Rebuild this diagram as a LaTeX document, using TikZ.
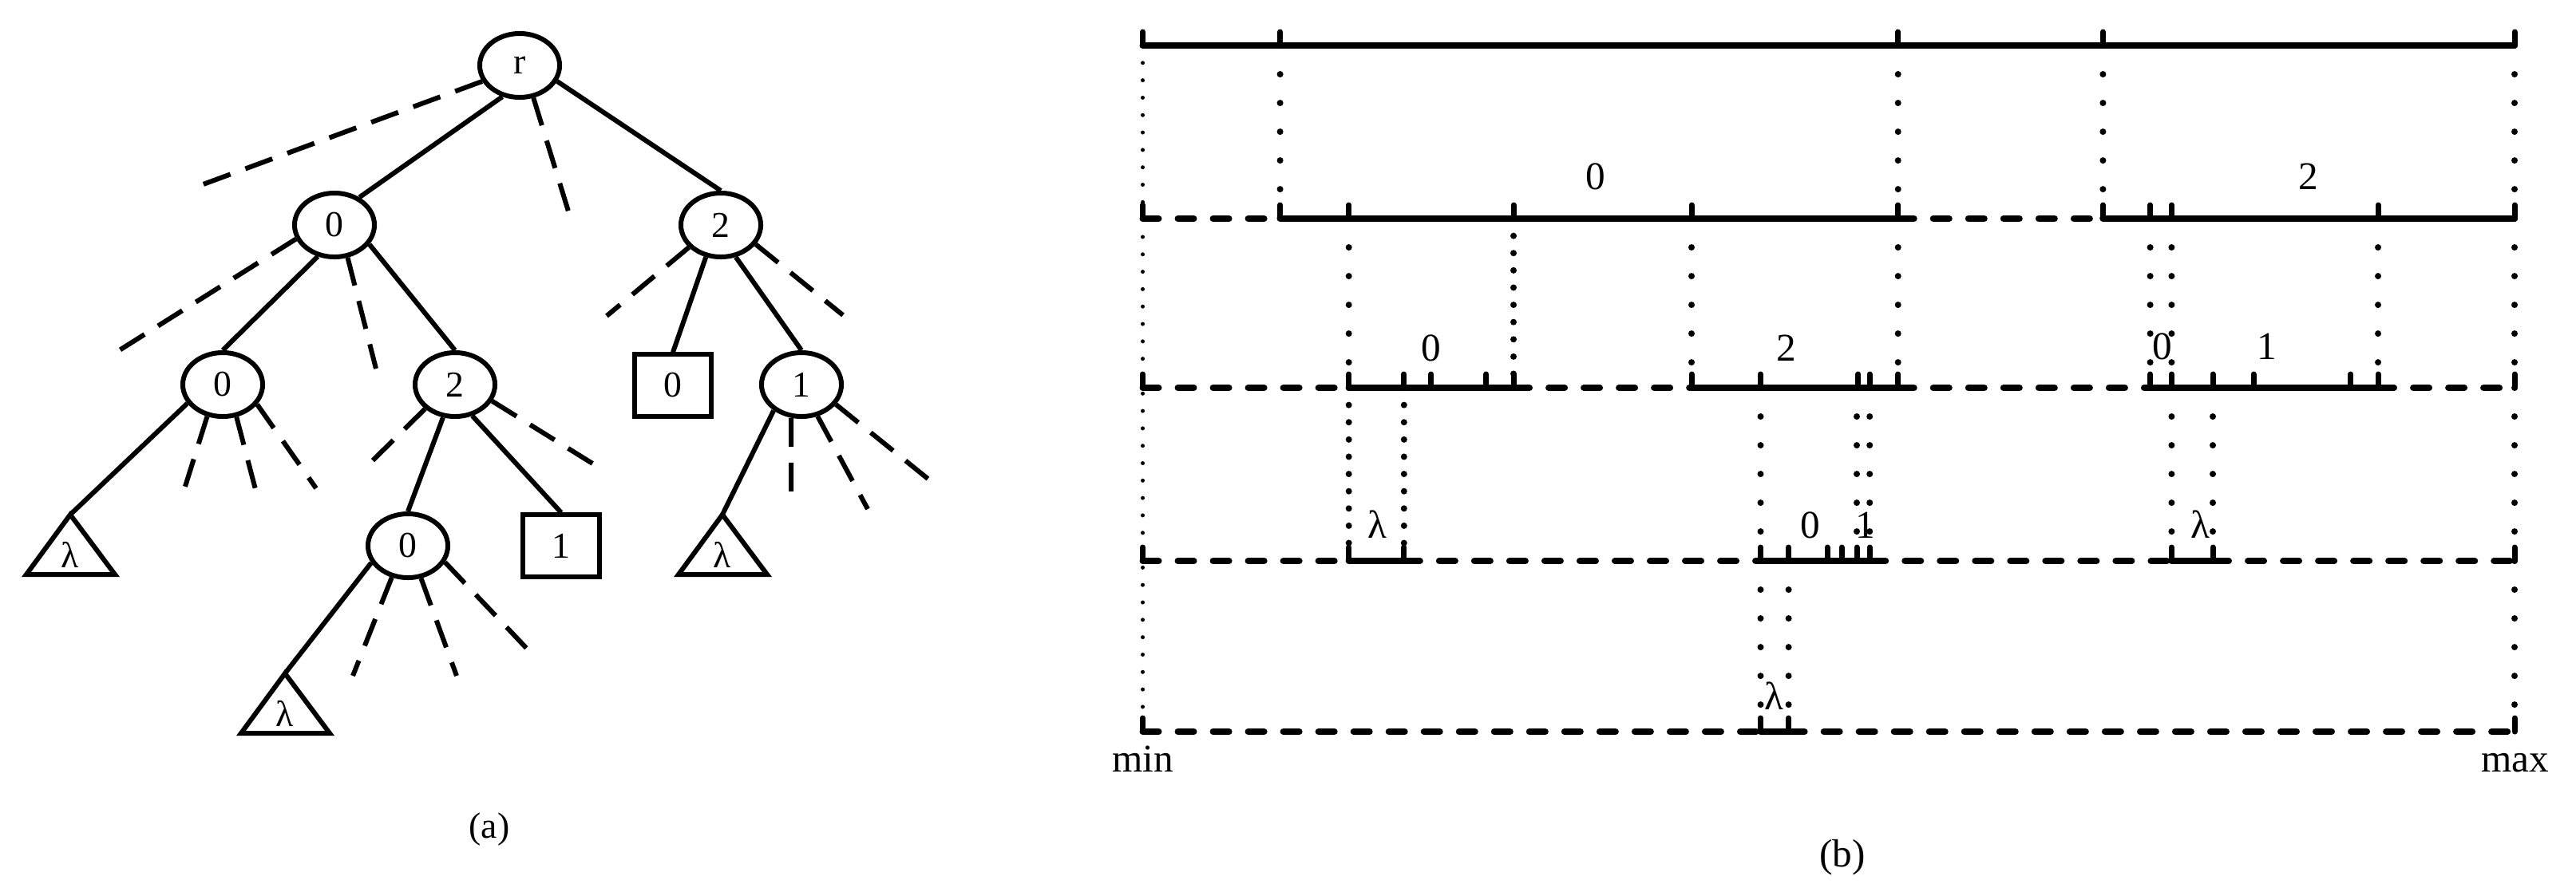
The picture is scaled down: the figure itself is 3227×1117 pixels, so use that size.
\documentclass[tikz,border=0pt]{standalone}
\usepackage{fontspec}
\setmainfont{Liberation Serif}
\usetikzlibrary{shapes.geometric}

\tikzset{
  tnode/.style={ellipse,draw,line width=0.06cm,minimum width=1cm,minimum height=0.8cm,inner sep=0pt,font=\fontsize{13}{15}\selectfont},
  tleaf/.style={rectangle,draw,line width=0.06cm,minimum width=0.96cm,minimum height=0.77cm,inner sep=0pt,font=\fontsize{13}{15}\selectfont},
  tedge/.style={line width=0.06cm},
  tstub/.style={line width=0.06cm,dash pattern=on 0.36cm off 0.2cm},
  ttri/.style={line width=0.06cm},
  tlab/.style={inner sep=0pt,font=\fontsize{13}{15}\selectfont},
  solidpart/.style={line width=0.08cm,line cap=round},
  dashpart/.style={line width=0.08cm,line cap=round,dash pattern=on 0.2cm off 0.24cm},
  tickmark/.style={line width=0.07cm,line cap=round},
  guide/.style={line width=0.08cm,line cap=round,dash pattern=on 0pt off 0.36cm},
  guidedense/.style={line width=0.08cm,line cap=round,dash pattern=on 0pt off 0.216cm},
  guidemin/.style={line width=0.05cm,line cap=round,dash pattern=on 0pt off 0.218cm},
  ilab/.style={inner sep=0pt,font=\fontsize{14}{16}\selectfont},
}

\begin{document}
\begin{tikzpicture}[x=0.01cm,y=-0.01cm]
\useasboundingbox (0,0) rectangle (3227,1117);

% (a) the tree
\node[tnode] (r) at (651,82) {r};
\node[tnode] (a0) at (419,282) {0};
\node[tnode] (a2) at (903,282) {2};
\node[tnode] (b0) at (279,482) {0};
\node[tnode] (b2) at (570,482) {2};
\node[tleaf] (c0) at (843,483) {0};
\node[tnode] (b1) at (1004,482) {1};
\node[tnode] (d0) at (511,684) {0};
\node[tleaf] (c1) at (703,684) {1};
\coordinate (t1) at (88,645);
\coordinate (t2) at (905,645);
\coordinate (t3) at (357,844);
\foreach \t in {t1,t2,t3}{
  \draw[ttri] (\t) -- ++(-55,75) -- ++(111,0) -- cycle;
  \path (\t) ++(0,50) node[tlab] (\t-lam) {λ};
}

\draw[tedge] (r.241) -- (a0.48);
\draw[tedge] (r.337) -- (a2.north);
\draw[tedge] (a0.242) -- (b0.north);
\draw[tedge] (a0.331) -- (b2.north);
\draw[tedge] (a2.245) -- (c0.north);
\draw[tedge] (a2.295) -- (b1.north);
\draw[tedge] (b0.208) -- (t1);
\draw[tedge] (b2.250) -- (d0.north);
\draw[tedge] (b2.299) -- (c1.north);
\draw[tedge] (b1.223) -- (t2);
\draw[tedge] (d0.205) -- (t3);

% dashed stubs, children not drawn
\draw[tstub] (r.203) -- (241,236);
\draw[tstub] (r.293) -- (713,268);
\draw[tstub] (a0.200) -- (140,445);
\draw[tstub] (a0.292) -- (471,462);
\draw[tstub] (a2.215) -- (760,396);
\draw[tstub] (a2.331) -- (1056,395);
\draw[tstub] (b0.244) -- (230,616);
\draw[tstub] (b0.293) -- (321,617);
\draw[tstub] (b0.330) -- (396,612);
\draw[tstub] (b2.219) -- (463,581);
\draw[tstub] (b2.336) -- (752,587);
\draw[tstub] (b1.253) -- (991,622);
\draw[tstub] (b1.297) -- (1087,638);
\draw[tstub] (b1.330) -- (1171,607);
\draw[tstub] (d0.243) -- (442,847);
\draw[tstub] (d0.292) -- (572,847);
\draw[tstub] (d0.336) -- (662,815);

\node[tlab] (capa) at (613,1039) {(a)};

% (b) the intervals
\draw[guidemin] (1431.5,57) -- (1431.5,917);

\draw[solidpart] (1431.5,57) -- (3150,57);
\foreach \x in {1431.5,1603.6,2377.7,2634.4,3150} \draw[tickmark] (\x,57) -- ++(0,-17);
\foreach \x in {1603.6,2377.7,2634.4,3150} \draw[guide] (\x,57) -- (\x,274);

\draw[dashpart] (1431.5,274) -- (1603.6,274);
\draw[solidpart] (1603.6,274) -- (2377.7,274);
\draw[dashpart] (2377.7,274) -- (2634.4,274);
\draw[solidpart] (2634.4,274) -- (3150,274);
\foreach \x in {1431.5,1603.6,1689.7,1896,2119,2377.7,2634.4,2693.6,2720.4,2979,3150} \draw[tickmark] (\x,274) -- ++(0,-17);
\foreach \x in {1689.7,2119,2377.7,2693.6,2720.4,2979,3150} \draw[guide] (\x,274) -- (\x,486);
\draw[guidedense] (1896,274) -- (1896,486);
\node[ilab] (l1a) at (1999,221) {0};
\node[ilab] (l1b) at (2892,221) {2};

\draw[dashpart] (1431.5,486) -- (1689.7,486);
\draw[solidpart] (1689.7,486) -- (1896,486);
\draw[dashpart] (1896,486) -- (2119,486);
\draw[solidpart] (2119,486) -- (2377.7,486);
\draw[dashpart] (2377.7,486) -- (2693.6,486);
\draw[solidpart] (2693.6,486) -- (2979,486);
\draw[dashpart] (2979,486) -- (3150,486);
\foreach \x in {1431.5,1689.7,1758.8,1792.7,1861.8,1896,2119,2205.5,2327.9,2342.2,2377.7,2693.6,2720.4,2772,2823,2944.7,2979,3150} \draw[tickmark] (\x,486) -- ++(0,-17);
\foreach \x in {1689.7,1758.8} \draw[guidedense] (\x,486) -- (\x,703);
\foreach \x in {2205.5,2326,2342.2,2720.4,2772,3150} \draw[guide] (\x,486) -- (\x,703);
\node[ilab] (l2a) at (1793,436) {0};
\node[ilab] (l2b) at (2238,436) {2};
\node[ilab] (l2c) at (2709,434) {0};
\node[ilab] (l2d) at (2840,434) {1};

\draw[dashpart] (1431.5,703) -- (1689.7,703);
\draw[solidpart] (1689.7,703) -- (1758.8,703);
\draw[dashpart] (1758.8,703) -- (2205.5,703);
\draw[solidpart] (2205.5,703) -- (2342.2,703);
\draw[dashpart] (2342.2,703) -- (2720.4,703);
\draw[solidpart] (2720.4,703) -- (2772,703);
\draw[dashpart] (2772,703) -- (3150,703);
\foreach \x in {1431.5,1689.7,1758.8,2205.5,2240.6,2289,2307,2326,2342.2,2720.4,2772,3150} \draw[tickmark] (\x,703) -- ++(0,-17);
\foreach \x in {2205.5,2240.6,3150} \draw[guide] (\x,703) -- (\x,917);
\node[ilab] (l3a) at (1725,657) {λ};
\node[ilab] (l3b) at (2268,658) {0};
\node[ilab] (l3c) at (2337,658) {1};
\node[ilab] (l3d) at (2756,657) {λ};

\draw[dashpart] (1431.5,917) -- (2205.5,917);
\draw[solidpart] (2205.5,917) -- (2240.6,917);
\draw[dashpart] (2240.6,917) -- (3150,917);
\foreach \x in {1431.5,2205.5,2240.6,3150} \draw[tickmark] (\x,917) -- ++(0,-17);
\node[ilab] (l4a) at (2222,872) {λ};

\node[ilab,anchor=base] (min) at (1431.5,967) {min};
\node[ilab,anchor=base] (max) at (3151,967) {max};
\node[ilab] (capb) at (2308,1075) {(b)};
\end{tikzpicture}
\end{document}
